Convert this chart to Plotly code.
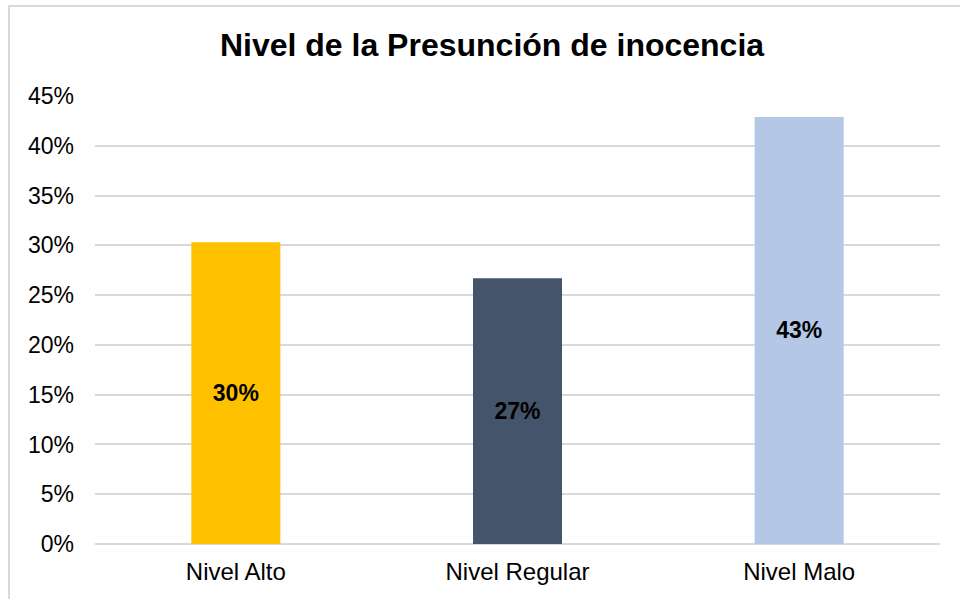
import plotly.graph_objects as go

categories = ["Nivel Alto", "Nivel Regular", "Nivel Malo"]
values = [0.303, 0.267, 0.429]
colors = ["#FFC000", "#44546A", "#B4C7E7"]
title = "Nivel de la Presunción de inocencia"

W, H = 960, 599
ml, mr, mt, mb = 95, 20, 96, 55
pw = W - ml - mr
ph = H - mt - mb

FONT = "Liberation Sans, Arial"

fig = go.Figure(go.Bar(
    x=categories, y=values,
    marker=dict(color=colors, line=dict(width=0)),
    texttemplate="%{y:.0%}", textposition="inside", insidetextanchor="middle",
    textfont=dict(family=FONT, size=23, color="#000000", weight="bold"),
    textangle=0,
))

fig.update_layout(
    width=W, height=H,
    margin=dict(l=ml, r=mr, t=mt, b=mb),
    paper_bgcolor="white", plot_bgcolor="white",
    bargap=0.684,
    showlegend=False,
    title=dict(text="<b>" + title + "</b>", x=492 / W, xanchor="center",
               y=1 - 45 / H, yanchor="middle",
               font=dict(family=FONT, size=32, color="#000000")),
    font=dict(family=FONT, size=23, color="#000000"),
)
fig.update_yaxes(range=[0, 0.45], dtick=0.05, tickformat=".0%",
                 showgrid=True, gridcolor="#D9D9D9", gridwidth=2,
                 zeroline=True, zerolinecolor="#D9D9D9", zerolinewidth=2,
                 showline=False, ticks="", ticklabelstandoff=20,
                 tickfont=dict(size=23, color="#000000"))
fig.update_xaxes(showgrid=False, showline=False, ticks="",
                 tickfont=dict(size=24, color="#000000"), ticklabelstandoff=11)

# chart-area border
fig.add_shape(type="rect", xref="paper", yref="paper",
              x0=(9 - ml) / pw, x1=(W + 5 - ml) / pw,
              y0=(ph + mt - (H + 5)) / ph, y1=(ph + mt - 6) / ph,
              line=dict(color="#D9D9D9", width=2), fillcolor="rgba(0,0,0,0)", layer="below")

fig.write_html("out.html", config={"displayModeBar": False},
               post_script="document.body.style.margin='0';")
